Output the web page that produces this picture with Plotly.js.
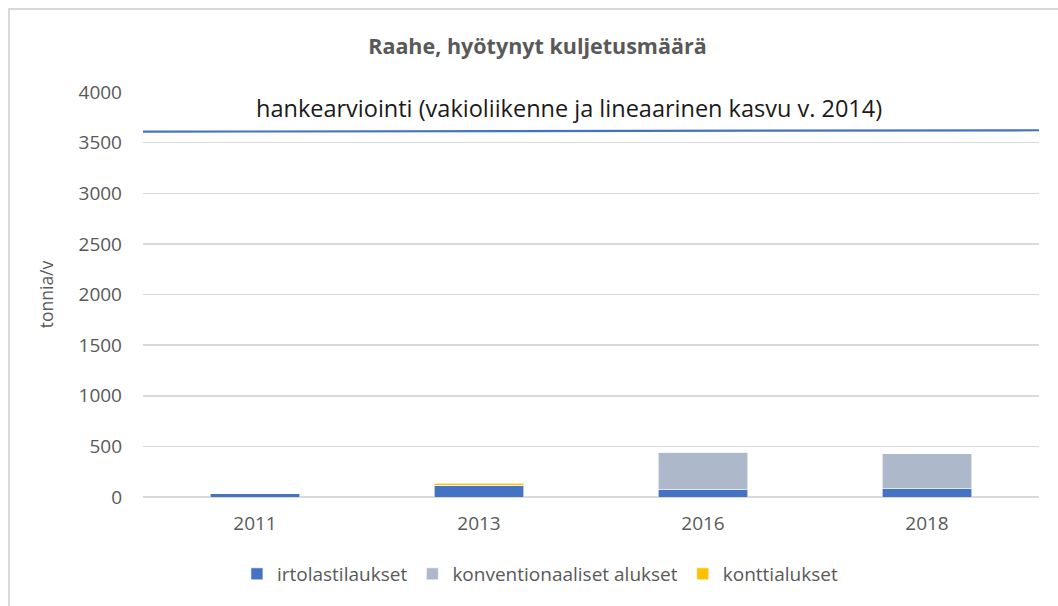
<!DOCTYPE html>
<html>
<head>
<meta charset="utf-8">
<script src="https://cdn.plot.ly/plotly-3.0.1.min.js"></script>
<style>html,body{margin:0;padding:0;background:#fff;}#chart{width:1058px;height:606px;}</style>
</head>
<body>
<div id="chart"></div>
<script>
var years = ['2011', '2013', '2016', '2018'];
var irtolasti = [32, 112, 78, 88];
var konventionaali = [0, 5, 362, 340];
var kontti = [0, 18, 0, 0];
var lineX = [0, 1];
var lineValues = [3608, 3622];
var lineLabel = 'hankearviointi (vakioliikenne ja lineaarinen kasvu v. 2014)';

var font = 'Open Sans, DejaVu Sans, sans-serif';
var grey = '#595959';

var traces = [
  {type: 'bar', name: 'irtolastilaukset', x: years, y: irtolasti,
   marker: {color: '#4472C4', line: {color: 'rgba(255,255,255,0.6)', width: 1}}},
  {type: 'bar', name: 'konventionaaliset alukset', x: years, y: konventionaali,
   marker: {color: '#ADB9CA', line: {color: 'rgba(255,255,255,0.6)', width: 1}}},
  {type: 'bar', name: 'konttialukset', x: years, y: kontti,
   marker: {color: '#FFC000', line: {color: 'rgba(255,255,255,0.6)', width: 1}}},
  {type: 'scatter', mode: 'lines', name: lineLabel, x: lineX, y: lineValues,
   xaxis: 'x2', yaxis: 'y', showlegend: false,
   line: {color: '#4472C4', width: 2.2}}
];

var layout = {
  width: 1058, height: 606,
  paper_bgcolor: '#fff', plot_bgcolor: '#fff',
  margin: {l: 143, r: 19, t: 92, b: 109},
  barmode: 'stack',
  bargap: 0.6,
  title: {text: '<b>Raahe, hyötynyt kuljetusmäärä</b>', font: {family: font, size: 21.5, color: grey},
          x: 0.508, xanchor: 'center', y: 0.924, yanchor: 'middle'},
  xaxis: {type: 'category', range: [-0.5, 3.5], showgrid: false, zeroline: false,
          showline: false, ticks: '', tickfont: {family: font, size: 19, color: grey}, ticklabelstandoff: 13},
  xaxis2: {overlaying: 'x', range: [0, 1], visible: false, showgrid: false, zeroline: false},
  yaxis: {range: [0, 4000], dtick: 500, showgrid: true, gridcolor: '#d9d9d9', gridwidth: 1.5,
          zeroline: true, zerolinecolor: '#d9d9d9', zerolinewidth: 1.5, showline: false, ticks: '',
          tickfont: {family: font, size: 19, color: grey}, ticklabelstandoff: 20,
          title: {text: 'tonnia/v', font: {family: font, size: 17.5, color: grey}, standoff: 20}},
  legend: {orientation: 'h', x: 0.443, xanchor: 'center', y: -0.19, yanchor: 'middle',
           font: {family: font, size: 19, color: grey}, itemwidth: 30, traceorder: 'normal'},
  annotations: [{text: lineLabel, xref: 'paper', yref: 'paper', x: 0.475, y: 0.96,
                 xanchor: 'center', yanchor: 'middle', showarrow: false,
                 font: {family: font, size: 23.5, color: '#1a1a1a'}}],
  shapes: [{type: 'rect', xref: 'paper', yref: 'paper', x0: -0.1496, x1: 1.1, y0: -0.4, y1: 1.205,
            line: {color: '#d9d9d9', width: 2}, fillcolor: 'rgba(0,0,0,0)', layer: 'below'}]
};

Plotly.newPlot('chart', traces, layout, {displayModeBar: false, staticPlot: true});
</script>
</body>
</html>
